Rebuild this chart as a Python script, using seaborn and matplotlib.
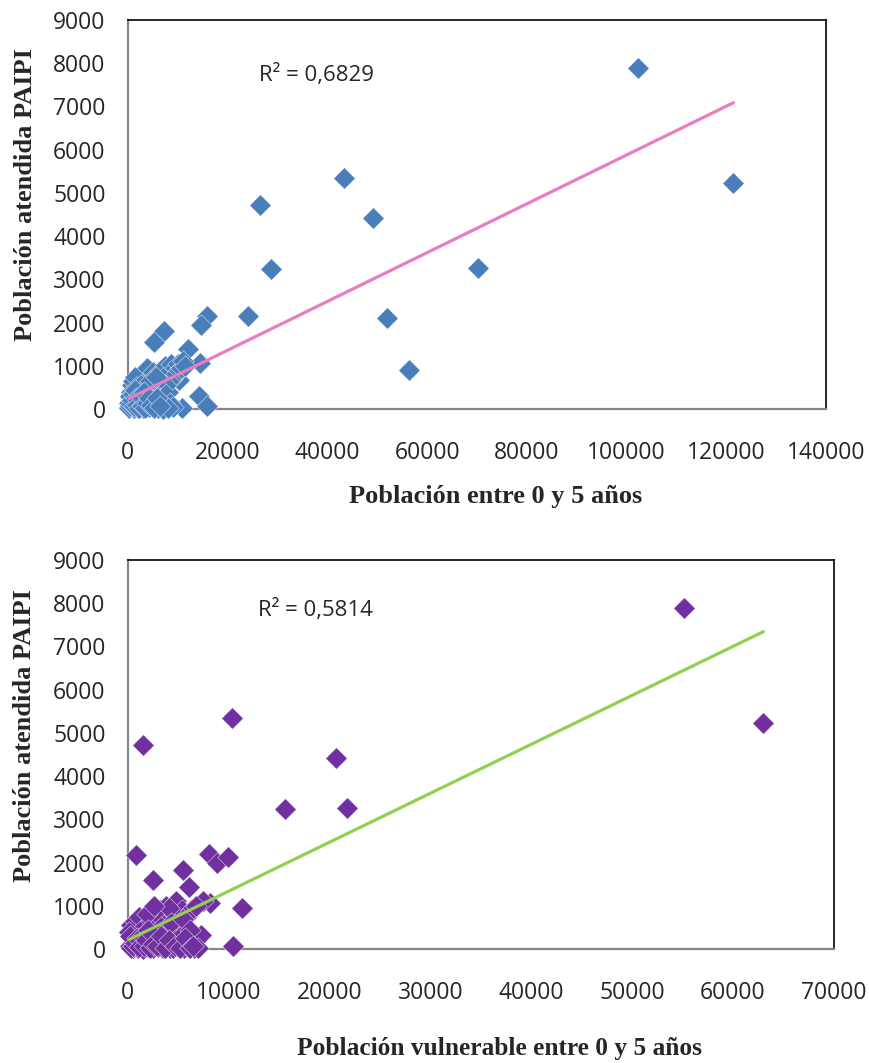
import numpy as np
import pandas as pd
import matplotlib
matplotlib.use('Agg')
import matplotlib.pyplot as plt
import seaborn as sns

# Población entre 0 y 5 años vs. población atendida PAIPI (municipios)
pob_total = [102200, 121400, 43400, 26400, 49200, 28600, 70200, 52000, 24000, 56400,
             15940, 14740, 7200, 5140, 12000, 14400, 10200, 14200, 15940, 10940,
             300, 500, 700, 900, 1100, 1300, 1500, 1700, 1900, 2100,
             2300, 2500, 2700, 2900, 3100, 3300, 3500, 3700, 3900, 4100,
             4300, 4500, 4700, 4900, 5100, 5300, 5500, 5700, 5900, 6100,
             6300, 6500, 6700, 6900, 7100, 7300, 7500, 7700, 7900, 8100,
             8300, 8500, 8700, 8900, 9100, 9400, 9700, 10000, 10300, 10600,
             11000, 11500, 2000, 1200, 600, 800, 1000, 1400, 3000, 5000,
             6000, 7000, 8000, 400, 200, 1600, 2600, 3600, 4400, 5600,
             250, 450, 650, 850, 1050, 1250, 1450, 1650, 1850, 2200,
             2400, 2800, 3200, 3400, 3800, 4200, 4600, 5200, 5800, 6400]
atendida_1 = [7890, 5240, 5340, 4710, 4410, 3250, 3270, 2110, 2160, 905,
              2160, 1950, 1810, 1550, 1390, 1070, 670, 300, 70, 30,
              50, 100, 250, 400, 550, 650, 150, 300, 450, 650,
              80, 250, 400, 700, 550, 150, 800, 300, 950, 650,
              40, 450, 750, 200, 850, 550, 80, 350, 650, 800,
              150, 500, 900, 30, 300, 700, 1000, 600, 40, 400,
              850, 150, 1050, 700, 50, 950, 800, 1050, 900, 950,
              1100, 1000, 20, 30, 400, 550, 650, 750, 20, 40,
              20, 10, 20, 300, 150, 500, 550, 500, 650, 750,
              20, 60, 120, 200, 350, 80, 450, 250, 100, 30,
              300, 60, 400, 20, 150, 250, 100, 30, 250, 60]

# Población vulnerable entre 0 y 5 años vs. población atendida PAIPI
pob_vulnerable = [55100, 63000, 10300, 1490, 20600, 15560, 21700, 790, 8000, 8820,
                  9880, 5480, 2510, 6010, 11300, 4760, 7230, 10400, 8130,
                  200, 400, 600, 800, 1000, 1200, 1400, 1600, 1800, 2000,
                  2200, 2400, 2600, 2800, 3000, 3200, 3400, 3600, 3800, 4000,
                  4200, 4400, 4600, 4800, 5000, 5200, 5400, 5600, 5800, 6000,
                  6300, 6600, 7000, 7400, 500, 1000, 1500, 2500, 3000, 3500,
                  4500, 300, 700, 1100, 1300, 1700, 2100, 2300, 2700, 2900,
                  3300, 3700, 4100, 4300, 4700, 5300, 5500, 6200, 6800, 900,
                  1900, 2600, 3100, 150, 250,
                  350, 550, 750, 950, 1150, 1350, 1550, 1750, 1950, 2150,
                  2450, 2850, 3250, 3650, 4050, 4650, 5150, 5650, 6150, 6450]
atendida_2 = [7890, 5240, 5350, 4710, 4430, 3250, 3270, 2170, 2210, 1985,
              2120, 1820, 1590, 1440, 940, 550, 320, 60, 1060,
              80, 250, 400, 550, 700, 100, 300, 450, 700, 40,
              600, 800, 200, 400, 750, 900, 150, 550, 1000, 700,
              30, 400, 800, 1100, 50, 550, 900, 20, 750, 40,
              900, 30, 20, 1100, 20, 30, 10, 20, 40, 30,
              20, 550, 650, 750, 450, 200, 350, 650, 850, 100,
              500, 300, 950, 600, 200, 300, 700, 450, 1000, 150,
              800, 1000, 80, 400, 300,
              20, 60, 150, 250, 40, 300, 80, 200, 450, 30,
              120, 60, 300, 20, 200, 60, 30, 250, 20, 80]

r2_labels = ['R² = 0,6829', 'R² = 0,5814']
x_titles = ['Población entre 0 y 5 años', 'Población vulnerable entre 0 y 5 años']
y_title = 'Población atendida PAIPI'

sns.set_style('white')
plt.rcParams['font.family'] = ['Open Sans', 'DejaVu Sans']

fig = plt.figure(figsize=(8.7, 10.63), dpi=100)
ax1 = fig.add_axes([0.147, 0.6152, 0.8026, 0.3660])
ax2 = fig.add_axes([0.147, 0.1072, 0.8115, 0.3660])

df1 = pd.DataFrame({'x': pob_total, 'y': atendida_1})
df2 = pd.DataFrame({'x': pob_vulnerable, 'y': atendida_2})

panels = [
    (ax1, df1, '#4A7EBB', '#E87DC0', 140000, 20000, r2_labels[0], 26200, 7730, x_titles[0], 19, -0.224),
    (ax2, df2, '#7030A0', '#92D050', 70000, 10000, r2_labels[1], 12900, 7850, x_titles[1], 18.3, -0.256),
]

for ax, df, mcol, lcol, xmax, xstep, r2, r2x, r2y, xt, xfs, xly in panels:
    sns.scatterplot(data=df, x='x', y='y', ax=ax, marker='D', s=120,
                    color=mcol, edgecolor='#ffffff', linewidth=0.3,
                    clip_on=False, zorder=3)
    # linear trend line
    sns.regplot(data=df, x='x', y='y', ax=ax, scatter=False, ci=None,
                truncate=True, line_kws={'color': lcol, 'lw': 2.3, 'zorder': 4})

    ax.set_xlim(0, xmax)
    ax.set_ylim(0, 9000)
    ax.set_xticks(np.arange(0, xmax + 1, xstep))
    ax.set_yticks(np.arange(0, 9001, 1000))
    ax.tick_params(axis='x', length=0, pad=23, labelsize=16.5)
    ax.tick_params(axis='y', length=0, pad=16, labelsize=16.5)

    for side in ['top', 'right']:
        ax.spines[side].set_color('black')
        ax.spines[side].set_linewidth(1.2)
    for side in ['left', 'bottom']:
        ax.spines[side].set_color('#868686')
        ax.spines[side].set_linewidth(1.6)

    ax.text(r2x, r2y, r2, fontsize=16, ha='left', va='center')

    ax.set_xlabel(xt, fontsize=xfs, fontweight='bold', family='Liberation Serif')
    ax.set_ylabel(y_title, fontsize=19, fontweight='bold', family='Liberation Serif')
    ax.xaxis.label.set_va('center')
    ax.yaxis.label.set_va('center')
    ax.xaxis.set_label_coords(0.526, xly)
    ax.yaxis.set_label_coords(-0.147, 0.55)

fig.savefig('out.png', dpi=100)
